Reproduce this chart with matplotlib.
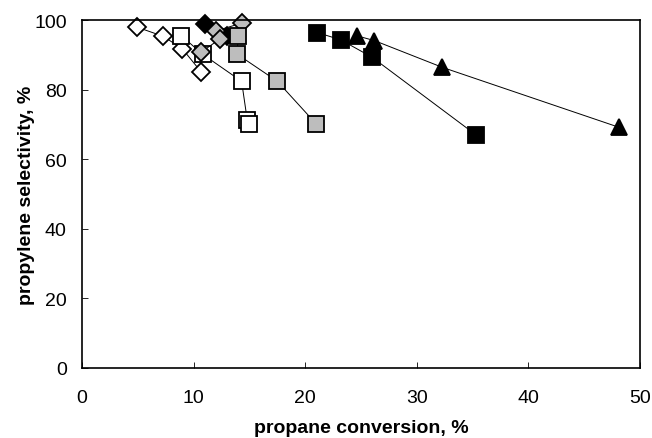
import matplotlib
matplotlib.use('Agg')
import matplotlib.pyplot as plt

plt.rcParams['font.family'] = ['Liberation Sans', 'DejaVu Sans']

# open diamonds
od_x = [4.9, 7.3, 9.0, 10.7]
od_y = [98.0, 95.3, 91.7, 85.0]
# open squares
os_x = [8.9, 10.8, 14.3, 14.8, 15.0]
os_y = [95.5, 90.2, 82.4, 71.4, 70.1]
# gray diamonds
gd_x = [14.3, 12.0, 12.4, 10.7]
gd_y = [99.1, 96.9, 94.7, 90.8]
# black diamonds
bd_x = [11.0, 13.0]
bd_y = [98.8, 95.3]
# gray squares
gs_x = [14.0, 13.9, 17.5, 21.0]
gs_y = [95.5, 90.2, 82.4, 70.1]
# black squares
bs_x = [21.1, 23.2, 26.0, 35.3]
bs_y = [96.4, 94.3, 89.3, 67.0]
# black triangles
bt_x = [24.6, 26.2, 32.3, 48.1]
bt_y = [95.5, 94.1, 86.4, 69.2]

gray = '#bdbdbd'
series = [
    (od_x, od_y, 'D', 'white', 8.8),
    (os_x, os_y, 's', 'white', 12),
    (bd_x, bd_y, 'D', 'black', 8.8),
    (gd_x, gd_y, 'D', gray, 8.8),
    (gs_x, gs_y, 's', gray, 12),
    (bs_x, bs_y, 's', 'black', 12),
    (bt_x, bt_y, '^', 'black', 11),
]

fig = plt.figure(figsize=(6.52, 4.39), dpi=100)
ax = fig.add_axes([0.1258, 0.1595, 0.8558, 0.7925])

for xs, ys, m, fc, ms in series:
    ax.plot(xs, ys, color='black', lw=0.7, marker=m, markersize=ms,
            markerfacecolor=fc, markeredgecolor='black', markeredgewidth=1.3,
            clip_on=False)

ax.set_xlim(0, 50)
ax.set_ylim(0, 100)
ax.set_xticks(range(0, 51, 10))
ax.set_yticks(range(0, 101, 20))
ax.tick_params(direction='in', length=4, width=0.6, labelsize=14)
ax.tick_params(axis='x', pad=15)
ax.tick_params(axis='y', pad=11)
for s in ax.spines.values():
    s.set_linewidth(1.2)
ax.set_xlabel('propane conversion, %', fontsize=14, fontweight='bold')
ax.set_ylabel('propylene selectivity, %', fontsize=14, fontweight='bold')
ax.xaxis.set_label_coords(0.5, -0.147)
ax.yaxis.set_label_coords(-0.084, 0.5)

fig.savefig('out.png', dpi=100)
